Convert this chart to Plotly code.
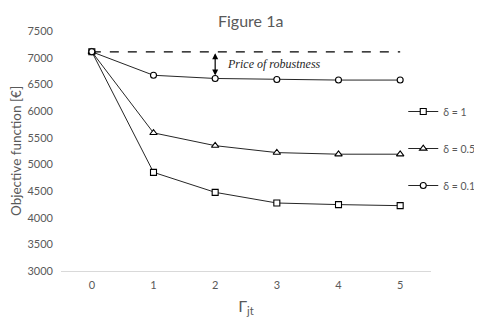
import plotly.graph_objects as go

gamma = [0, 1, 2, 3, 4, 5]
delta_1 = [7110, 4850, 4475, 4275, 4245, 4225]
delta_05 = [7110, 5590, 5350, 5220, 5190, 5190]
delta_01 = [7110, 6670, 6610, 6590, 6580, 6580]
nominal = [7110, 7110, 7110, 7110, 7110, 7110]
series_names = ["δ = 1", "δ = 0.5", "δ = 0.1"]
y_ticks = [3000, 3500, 4000, 4500, 5000, 5500, 6000, 6500, 7000, 7500]

FONT = "Lato"
GRAY = "#595959"

fig = go.Figure()

fig.add_trace(go.Scatter(x=gamma, y=nominal, mode="lines",
                         line=dict(color="black", width=1.3, dash="dash"),
                         showlegend=False, hoverinfo="skip"))

symbols = ["square", "triangle-up", "circle"]
sizes = [6, 6.5, 6]
for i, (name, vals, sym, sz) in enumerate(zip(series_names, [delta_1, delta_05, delta_01], symbols, sizes)):
    fig.add_trace(go.Scatter(
        x=gamma, y=vals, mode="lines+markers", name=name,
        legendgroup=f"g{i}",
        line=dict(color="#262626", width=1),
        marker=dict(symbol=sym, size=sz,
                    color="white", line=dict(color="black", width=1.1)),
    ))

fig.add_annotation(x=2, y=delta_01[2], ax=2, ay=nominal[2], xref="x", yref="y",
                   axref="x", ayref="y", showarrow=True, arrowhead=2,
                   arrowside="end+start", arrowsize=1, arrowwidth=1.2,
                   arrowcolor="black", text="", standoff=3, startstandoff=0)
fig.add_annotation(x=2.16, y=6885, xref="x", yref="y", showarrow=False,
                   text="<i>Price of robustness</i>", xanchor="left",
                   font=dict(family="Liberation Serif", size=12, color="#262626"))

fig.update_layout(
    width=482, height=322,
    margin=dict(l=53, r=59, t=23, b=59, autoexpand=False),
    paper_bgcolor="white", plot_bgcolor="white",
    font=dict(family=FONT, color=GRAY, size=11),
    title=dict(text="Figure 1a", x=0.4357, xanchor="left", y=0.957, yanchor="middle",
               font=dict(family=FONT, size=16, color=GRAY)),
    showlegend=True,
    legend=dict(x=0.925, xanchor="left", y=0.725, yanchor="top",
                font=dict(family=FONT, size=10.5, color=GRAY),
                tracegroupgap=18, itemwidth=30, bgcolor="rgba(0,0,0,0)"),
    xaxis=dict(type="category", range=[-0.5, 5.5], tickmode="array",
               tickvals=gamma, ticktext=[str(g) for g in gamma],
               showgrid=False, showline=True, linecolor="#d9d9d9", linewidth=1,
               ticks="", zeroline=False, automargin=False, ticklabelstandoff=4,
               title=dict(text="Γ<sub>jt</sub>", font=dict(family=FONT, size=16, color=GRAY), standoff=10)),
    yaxis=dict(range=[3000, 7500], tickvals=y_ticks, showgrid=False, showline=False,
               zeroline=False, ticks="", automargin=False, ticklabelstandoff=7,
               title=dict(text="Objective function [€]", font=dict(family=FONT, size=13.5, color=GRAY), standoff=3)),
)

fig.write_html("out.html")
